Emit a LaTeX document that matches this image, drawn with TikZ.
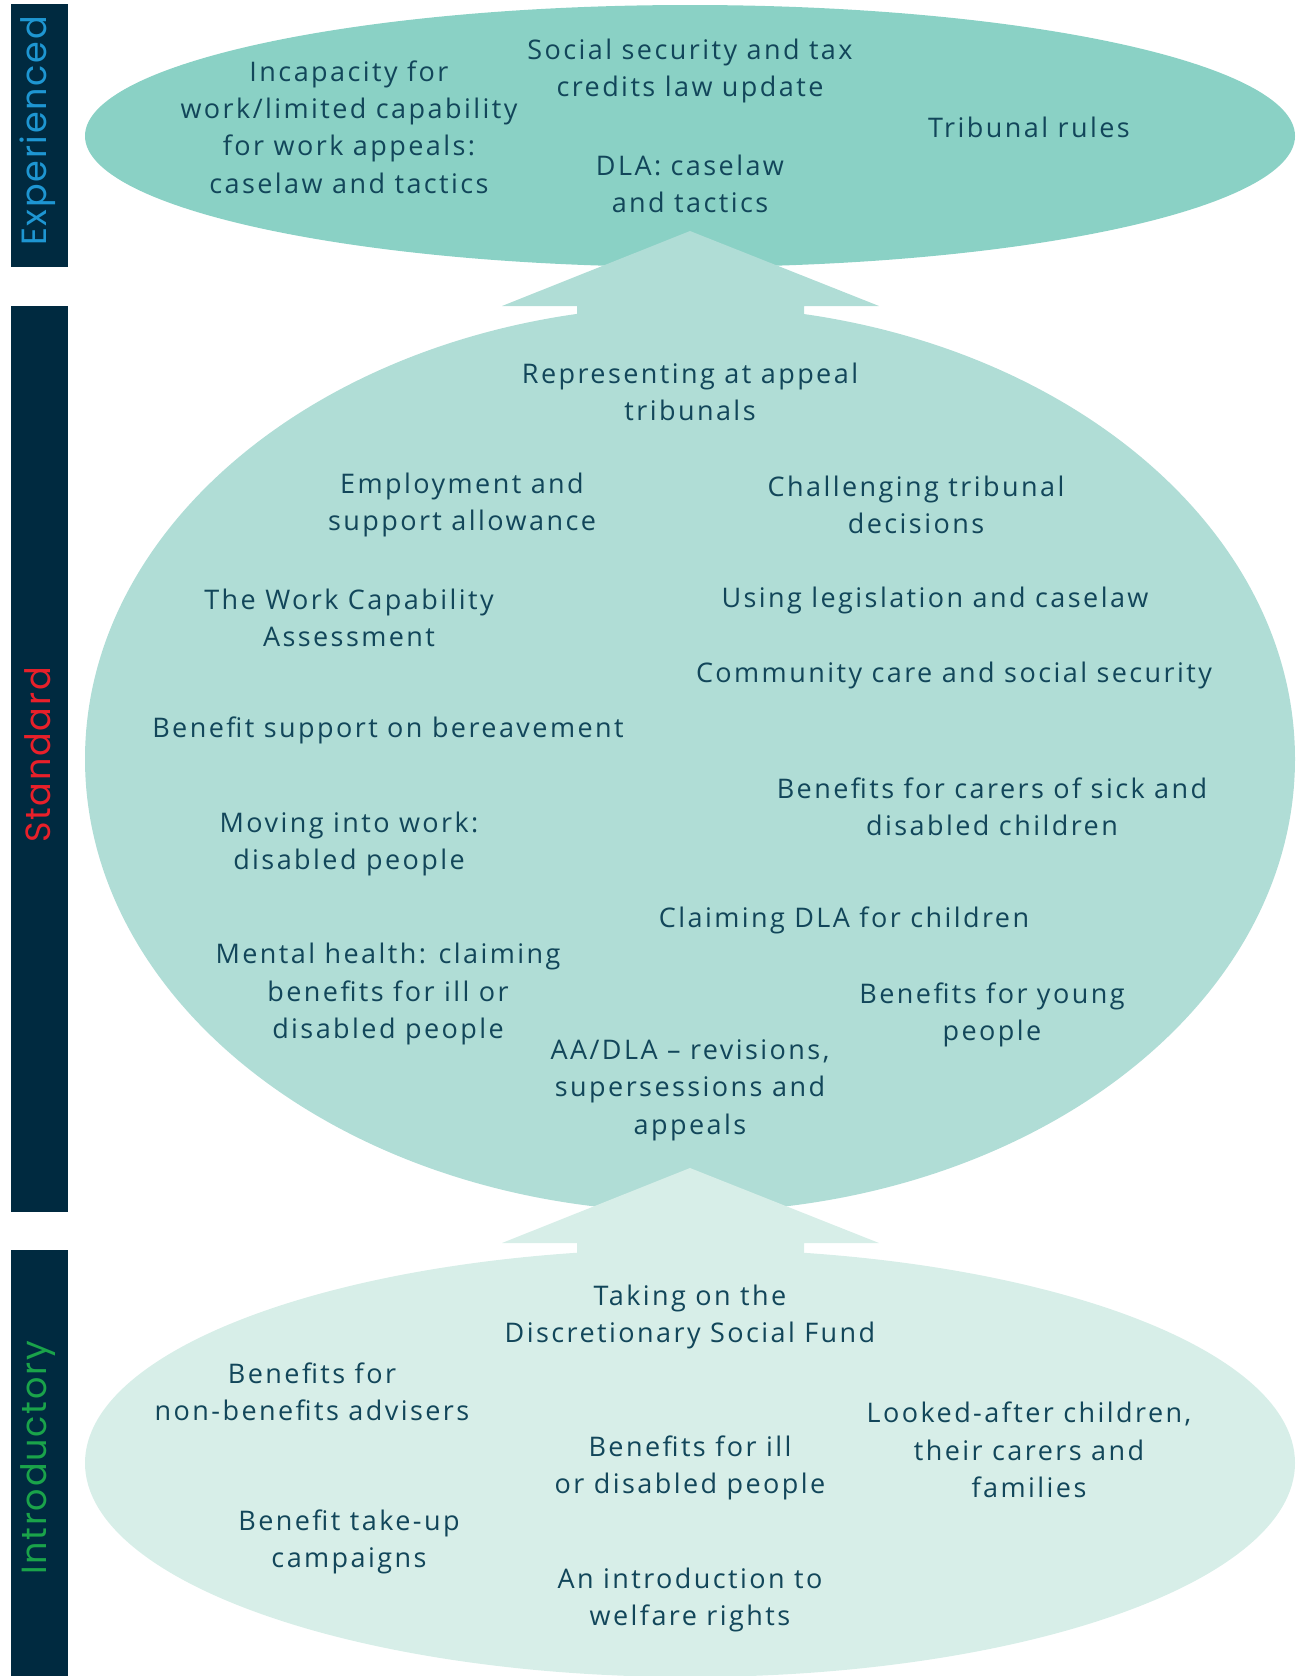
\documentclass[tikz,border=0pt]{standalone}
\usepackage{fontspec}
\setmainfont{Open Sans}[LetterSpace=9]
\newfontfamily\barfont{Poppins}[LetterSpace=5]
\usetikzlibrary{positioning}
\definecolor{ellA}{HTML}{8AD1C5}
\definecolor{ellB}{HTML}{B0DDD6}
\definecolor{ellC}{HTML}{D7EEE8}
\definecolor{txt}{HTML}{12465A}
\definecolor{bar}{HTML}{002A40}
\definecolor{lblA}{HTML}{1E96D2}
\definecolor{lblB}{HTML}{E8202A}
\definecolor{lblC}{HTML}{1AA34A}
\tikzset{
  topic/.style={align=center, text=txt, font=\fontsize{27}{37.4}\selectfont, inner sep=0pt},
  barbox/.style={fill=bar, draw=none},
  barlabel/.style={rotate=90, font=\barfont\fontsize{35}{40}\selectfont, inner sep=0pt},
}
\begin{document}
\begin{tikzpicture}[x=1pt,y=-1pt]
\useasboundingbox (0,0) rectangle (1308,1676);
% bars
\fill[bar] (11,4) rectangle (68,267);
\fill[bar] (11,306) rectangle (68,1212);
\fill[bar] (11,1250) rectangle (68,1676);
\node[barlabel, text=lblA] (lexp) at (38,131) {Experienced};
\node[barlabel, text=lblB] (lstd) at (38,755) {Standard};
\node[barlabel, text=lblC] (lint) at (38,1458) {Introductory};
% ellipses
\fill[ellA] (690,136) ellipse [x radius=605, y radius=131];
\fill[ellB] (690,759) ellipse [x radius=605, y radius=453];
\begin{scope}
\clip (0,0) rectangle (1308,1676);
\fill[ellC] (690,1463) ellipse [x radius=605, y radius=214];
\end{scope}
% arrows
\fill[ellB] (690,231) -- (879,306) -- (804,306) -- (804,360) -- (577,360) -- (577,306) -- (502,306) -- cycle;
\fill[ellC] (690,1168) -- (879,1243) -- (804,1243) -- (804,1300) -- (577,1300) -- (577,1243) -- (502,1243) -- cycle;
% experienced
\node[topic] (e1) at (349,127) {Incapacity for\\work/limited capability\\for work appeals:\\caselaw and tactics};
\node[topic] (e2) at (690,71) {Social security and tax\\credits law update};
\node[topic] (e3) at (690,184) {DLA: caselaw\\and tactics};
\node[topic] (e4) at (1029,127) {Tribunal rules};
% standard
\node[topic] (s1) at (690,392) {Representing at appeal\\tribunals};
\node[topic] (s2) at (462,505) {Employment and\\support allowance};
\node[topic] (s3) at (916,505) {Challenging tribunal\\decisions};
\node[topic] (s4) at (349,618) {The Work Capability\\Assessment};
\node[topic] (s5) at (935,600) {Using legislation and caselaw};
\node[topic] (s6) at (954,675) {Community care and social security};
\node[topic] (s7) at (388,730) {Benefit support on bereavement};
\node[topic] (s8) at (992,807) {Benefits for carers of sick and\\disabled children};
\node[topic] (s9) at (349,844) {Moving into work:\\disabled people};
\node[topic] (s10) at (844,920) {Claiming DLA for children};
\node[topic] (s11) at (388,994) {Mental health: claiming\\benefits for ill or\\disabled people};
\node[topic] (s12) at (992,1015) {Benefits for young\\people};
\node[topic] (s13) at (690,1090) {AA/DLA – revisions,\\supersessions and\\appeals};
% introductory
\node[topic] (i1) at (690,1317) {Taking on the\\Discretionary Social Fund};
\node[topic] (i2) at (312,1392) {Benefits for\\non-benefits advisers};
\node[topic] (i3) at (1029,1450) {Looked-after children,\\their carers and\\families};
\node[topic] (i4) at (690,1468) {Benefits for ill\\or disabled people};
\node[topic] (i5) at (349,1542) {Benefit take-up\\campaigns};
\node[topic] (i6) at (690,1600) {An introduction to\\welfare rights};
\end{tikzpicture}
\end{document}
